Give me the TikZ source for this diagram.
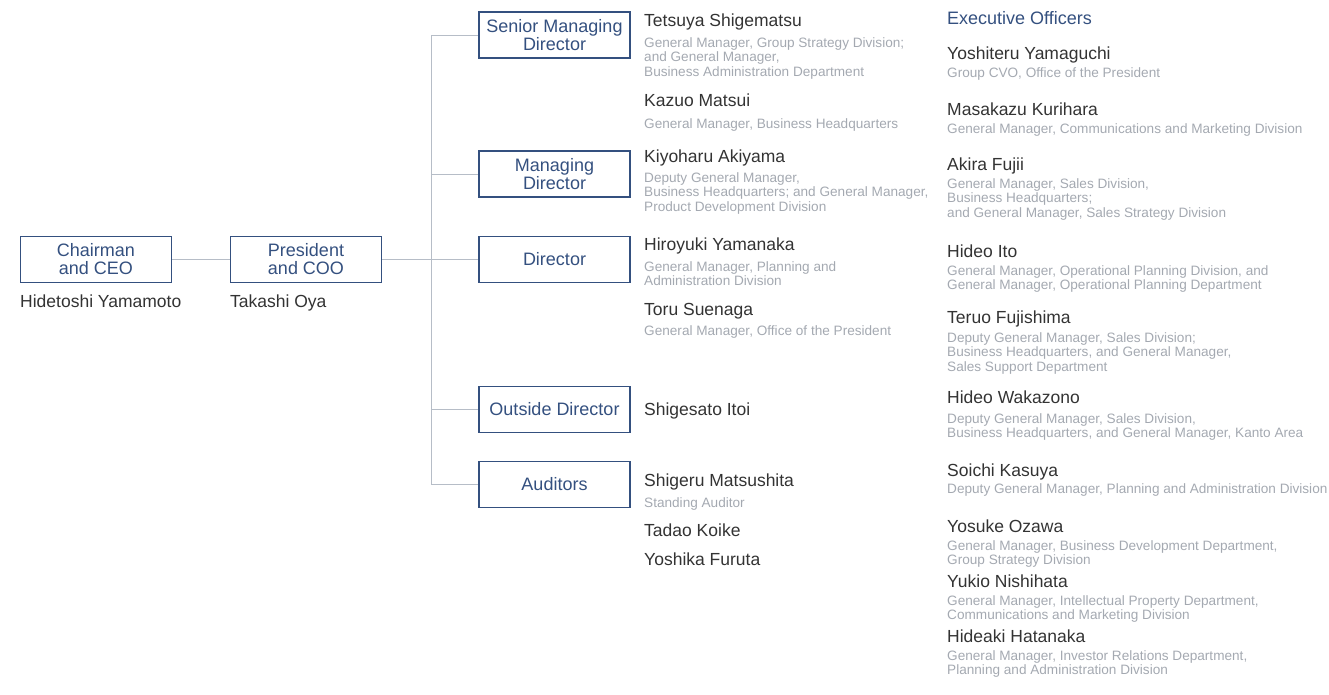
\documentclass[tikz,border=0pt]{standalone}
\usepackage{fontspec}
\setmainfont{Liberation Sans}
\usepackage{xcolor}
\definecolor{BoardBlue}{HTML}{34507F}
\definecolor{NameGray}{HTML}{333333}
\definecolor{NoteGray}{HTML}{A4A9B1}
\definecolor{LinkGray}{HTML}{B6BDC7}
\usepackage{tikz}
\usetikzlibrary{positioning}
\tikzset{
  rolebox/.style={rectangle, draw=BoardBlue, line width=1.2pt, text=BoardBlue, minimum width=151pt, minimum height=46pt, inner sep=0pt, font=\fontsize{18}{18}\selectfont, align=center},
  namelabel/.style={anchor=base west, inner sep=0pt, text=NameGray, font=\fontsize{17.5}{18}\selectfont},
  notelabel/.style={anchor=base west, inner sep=0pt, text=NoteGray, font=\fontsize{13.6}{14.5}\selectfont, align=left},
  headlabel/.style={anchor=base west, inner sep=0pt, text=BoardBlue, font=\fontsize{18}{18}\selectfont},
  linkline/.style={draw=LinkGray, line width=1pt}
}

\begin{document}
\begin{tikzpicture}[x=1pt, y=-1pt]
  \useasboundingbox (0,0) rectangle (1329,694);

  % top of the chart
  \node[rolebox] (chair) at (96,259.5) {Chairman\\and CEO};
  \node[rolebox] (pres) at (306,259.5) {President\\and COO};
  \node[namelabel] (chairname) at (20,307) {Hidetoshi Yamamoto};
  \node[namelabel] (presname) at (230,307) {Takashi Oya};

  % board
  \node[rolebox] (smd) at (554.5,35) {Senior Managing\\Director};
  \node[rolebox] (md) at (554.5,174) {Managing\\Director};
  \node[rolebox] (dir) at (554.5,259.5) {Director};
  \node[rolebox] (outdir) at (554.5,409.5) {Outside Director};
  \node[rolebox] (aud) at (554.5,484.5) {Auditors};
  \coordinate (spine) at (431,0);

  \draw[linkline] (chair) -- (pres);
  \draw[linkline] (pres.east) -- (pres.east -| spine);
  \draw[linkline] (smd.west -| spine) -- (aud.west -| spine);
  \foreach \b in {smd,md,dir,outdir,aud}
    \draw[linkline] (\b.west -| spine) -- (\b.west);

  % directors and auditors (notes sit on the baseline of their last line)
  \node[namelabel] (tetsuya) at (644,26) {Tetsuya Shigematsu};
  \node[notelabel] (tetsuyanote) at (644,76) {General Manager, Group Strategy Division;\\and General Manager,\\Business Administration Department};
  \node[namelabel] (kazuo) at (644,106) {Kazuo Matsui};
  \node[notelabel] (kazuonote) at (644,128) {General Manager, Business Headquarters};
  \node[namelabel] (kiyoharu) at (644,162) {Kiyoharu Akiyama};
  \node[notelabel] (kiyoharunote) at (644,211) {Deputy General Manager,\\Business Headquarters; and General Manager,\\Product Development Division};
  \node[namelabel] (hiroyuki) at (644,250) {Hiroyuki Yamanaka};
  \node[notelabel] (hiroyukinote) at (644,285.5) {General Manager, Planning and\\Administration Division};
  \node[namelabel] (toru) at (644,315) {Toru Suenaga};
  \node[notelabel] (torunote) at (644,335) {General Manager, Office of the President};
  \node[namelabel] (shigesato) at (644,415) {Shigesato Itoi};
  \node[namelabel] (shigeru) at (644,486) {Shigeru Matsushita};
  \node[notelabel] (shigerunote) at (644,507) {Standing Auditor};
  \node[namelabel] (tadao) at (644,536) {Tadao Koike};
  \node[namelabel] (yoshika) at (644,565) {Yoshika Furuta};

  % executive officers
  \node[headlabel] (exec) at (947,24) {Executive Officers};
  \node[namelabel] (yoshiteru) at (947,59) {Yoshiteru Yamaguchi};
  \node[notelabel] (yoshiterunote) at (947,77) {Group CVO, Office of the President};
  \node[namelabel] (masakazu) at (947,115) {Masakazu Kurihara};
  \node[notelabel] (masakazunote) at (947,133) {General Manager, Communications and Marketing Division};
  \node[namelabel] (akira) at (947,170) {Akira Fujii};
  \node[notelabel] (akiranote) at (947,217) {General Manager, Sales Division,\\Business Headquarters;\\and General Manager, Sales Strategy Division};
  \node[namelabel] (hideoito) at (947,257) {Hideo Ito};
  \node[notelabel] (hideoitonote) at (947,289.5) {General Manager, Operational Planning Division, and\\General Manager, Operational Planning Department};
  \node[namelabel] (teruo) at (947,323) {Teruo Fujishima};
  \node[notelabel] (teruonote) at (947,371) {Deputy General Manager, Sales Division;\\Business Headquarters, and General Manager,\\Sales Support Department};
  \node[namelabel] (wakazono) at (947,403) {Hideo Wakazono};
  \node[notelabel] (wakazononote) at (947,437.5) {Deputy General Manager, Sales Division,\\Business Headquarters, and General Manager, Kanto Area};
  \node[namelabel] (soichi) at (947,476) {Soichi Kasuya};
  \node[notelabel] (soichinote) at (947,493) {Deputy General Manager, Planning and Administration Division};
  \node[namelabel] (yosuke) at (947,532) {Yosuke Ozawa};
  \node[notelabel] (yosukenote) at (947,564.5) {General Manager, Business Development Department,\\Group Strategy Division};
  \node[namelabel] (yukio) at (947,587) {Yukio Nishihata};
  \node[notelabel] (yukionote) at (947,619.5) {General Manager, Intellectual Property Department,\\Communications and Marketing Division};
  \node[namelabel] (hideaki) at (947,642) {Hideaki Hatanaka};
  \node[notelabel] (hideakinote) at (947,674.5) {General Manager, Investor Relations Department,\\Planning and Administration Division};
\end{tikzpicture}
\end{document}
